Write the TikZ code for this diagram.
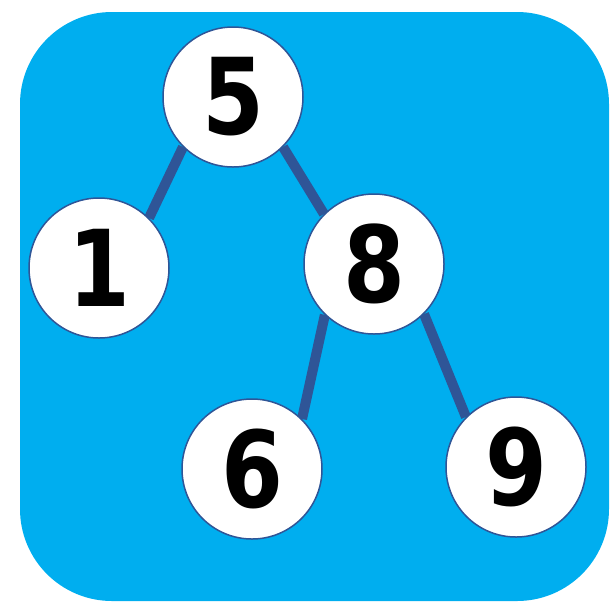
\documentclass[tikz,border=0pt]{standalone}
\usepackage{fontspec}
\setmainfont{DejaVu Sans}
\usetikzlibrary{backgrounds}
\definecolor{bgblue}{HTML}{00AEEF}
\definecolor{edgeblue}{HTML}{2F5597}
\newcommand{\narrowdigit}[1]{\scalebox{0.84}[1]{#1}}
\begin{document}
\begin{tikzpicture}[x=1pt,y=-1pt,
  treenode/.style={circle,draw=edgeblue,line width=1.5pt,fill=white,minimum size=140pt,inner sep=0pt,font=\fontsize{106}{106}\selectfont\bfseries},
  treeedge/.style={draw=edgeblue,line width=10pt}]
\useasboundingbox (0,0) rectangle (615,606);
\begin{scope}[on background layer]
\fill[bgblue,rounded corners=92pt] (20,12) rectangle (609,601);
\end{scope}
\node[treenode] (n5) at (233,97) {\raisebox{-6pt}{\narrowdigit{5}}};
\node[treenode] (n1) at (99,268) {\narrowdigit{1}};
\node[treenode] (n8) at (374,264) {\narrowdigit{8}};
\node[treenode] (n6) at (252,469) {\narrowdigit{6}};
\node[treenode] (n9) at (516,467) {\narrowdigit{9}};
\begin{scope}[on background layer]
\draw[treeedge] (n5.225) -- (n1.45);
\draw[treeedge] (n5.315) -- (n8.135);
\draw[treeedge] (n8.226) -- (n6.45);
\draw[treeedge] (n8.315) -- (n9.135);
\end{scope}
\end{tikzpicture}
\end{document}
